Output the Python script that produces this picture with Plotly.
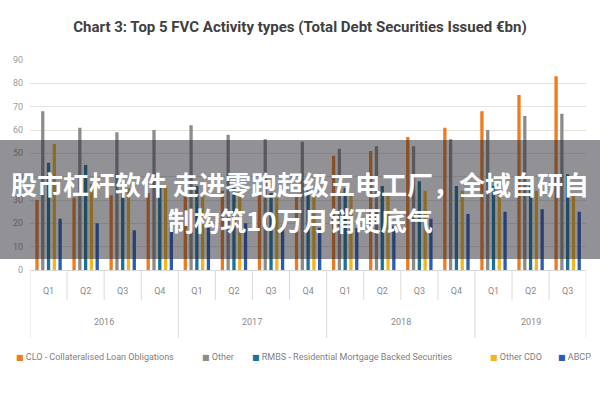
import plotly.graph_objects as go

years = ["2016"] * 4 + ["2017"] * 4 + ["2018"] * 4 + ["2019"] * 3
quarters = ["Q1", "Q2", "Q3", "Q4"] * 3 + ["Q1", "Q2", "Q3"]

series_names = [
    "CLO - Collateralised Loan Obligations",
    "Other",
    "RMBS - Residential Mortgage Backed Securities",
    "Other CDO",
    "ABCP",
]
clo = [30, 31, 32, 33, 34, 34, 34, 32, 49, 51, 57, 61, 68, 75, 83]
other = [68, 61, 59, 60, 62, 58, 56, 55, 52, 53, 53, 56, 60, 66, 67]
rmbs = [46, 45, 37, 36, 36, 35, 33, 34, 35, 36, 38, 36, 36, 36, 41]
other_cdo = [54, 37, 35, 36, 33, 34, 31, 32, 32, 32, 34, 34, 34, 34, 33]
abcp = [22, 20, 17, 18, 18, 20, 19, 18, 18, 19, 22, 24, 25, 26, 25]
series_values = [clo, other, rmbs, other_cdo, abcp]
colors = ["#F07B1E", "#8C8C8C", "#1C7399", "#F5B51B", "#2A5CB8"]

title = "Chart 3: Top 5 FVC Activity types (Total Debt Securities Issued €bn)"
overlay_lines = ["股市杠杆软件 走进零跑超级五电工厂，全域自研自", "制构筑10万月销硬底气"]

cats = [f"{y} {q}" for y, q in zip(years, quarters)]
n = len(cats)

fig = go.Figure()
for name, vals, col in zip(series_names, series_values, colors):
    fig.add_trace(go.Bar(x=cats, y=vals, name=name,
                         marker=dict(color=col, line=dict(width=0)),
                         showlegend=False, hoverinfo="skip"))

def py(px):
    return 1 - px / 400

AXIS_Y = 270
annotations = []
shapes = []

# year labels centred under their quarters
for yr in dict.fromkeys(years):
    idx = [i for i, y in enumerate(years) if y == yr]
    annotations.append(dict(x=sum(idx) / len(idx), y=py(322), xref="x", yref="paper",
                            xanchor="center", yanchor="middle",
                            showarrow=False, text=yr,
                            font=dict(family="Roboto", size=9, color="#8a8a8a")))

# dividers: short between quarters, long at year boundaries
for i in range(n + 1):
    long_div = i == 0 or i == n or years[i] != years[i - 1]
    shapes.append(dict(type="line", xref="x", yref="paper", x0=i - 0.5, x1=i - 0.5,
                       y0=py(AXIS_Y), y1=py(338 if long_div else 300),
                       line=dict(color="#d9d9d9", width=1)))

# legend drawn as annotations (small squares like the reference)
legend_px = [14, 200, 250, 488, 556]
for name, col, lx in zip(series_names, colors, legend_px):
    annotations.append(dict(
        x=lx / 600, y=py(357), xref="paper", yref="paper", xanchor="left", yanchor="middle",
        showarrow=False,
        text=f"<span style='color:{col};font-family:DejaVu Sans;font-size:8px'>■</span> {name}",
        font=dict(family="Roboto", size=9, color="#808080")))

# overlay banner
shapes.append(dict(type="rect", xref="paper", yref="paper", x0=0, x1=1,
                   y0=py(259), y1=py(140),
                   fillcolor="rgba(35,35,45,0.50)", line=dict(width=0), layer="above"))
for line, ypx in zip(overlay_lines, [183, 219]):
    annotations.append(dict(x=0.5, y=py(ypx), xref="paper", yref="paper",
                            xanchor="center", yanchor="middle",
                            showarrow=False, text=f"<b>{line}</b>",
                            font=dict(family="Noto Sans CJK SC", size=26, color="white")))

fig.update_layout(
    template="none",
    width=600, height=400,
    margin=dict(l=0, r=0, t=0, b=0),
    paper_bgcolor="white", plot_bgcolor="white",
    barmode="group", bargap=0.22, bargroupgap=0.43,
    hovermode=False,
    title=dict(text=f"<b>{title}</b>", x=0.5, y=py(27), xanchor="center",
               yanchor="middle", font=dict(family="Roboto", size=15, color="#404040")),
    xaxis=dict(domain=[0.05, 0.977], automargin=False, range=[-0.5, n - 0.5],
               tickmode="array", tickvals=cats, ticktext=quarters,
               tickfont=dict(family="Roboto", size=9, color="#8a8a8a"),
               ticks="", ticklabelstandoff=12,
               showline=True, linecolor="#d9d9d9", showgrid=False, zeroline=False),
    yaxis=dict(domain=[py(AXIS_Y), py(60)], range=[0, 90], dtick=10,
               automargin=False, ticklabelstandoff=6,
               tickfont=dict(family="Roboto", size=9, color="#9a9a9a"),
               gridcolor="#e3e3e3", zeroline=False, showline=False, ticks=""),
    shapes=shapes,
    annotations=annotations,
)

fig.write_html("out.html", config={"displayModeBar": False},
               post_script="document.body.style.margin='0';")
